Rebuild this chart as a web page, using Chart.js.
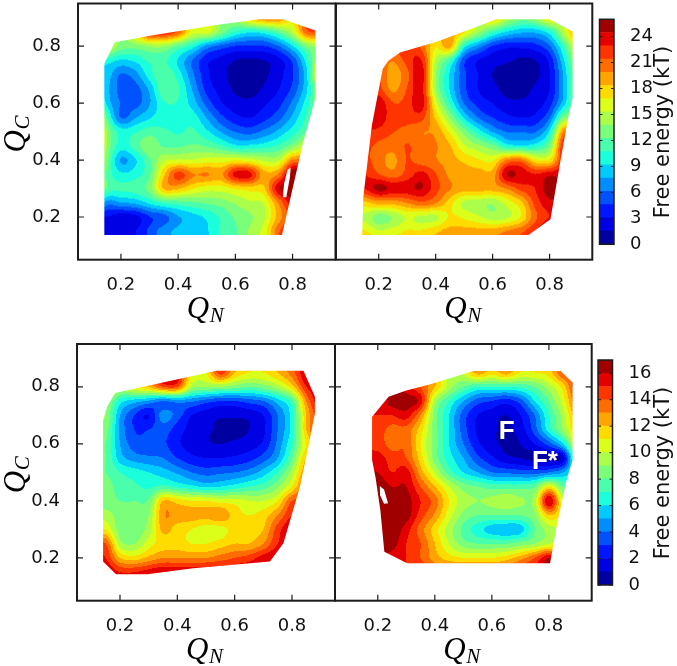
<!DOCTYPE html>
<html><head><meta charset="utf-8">
<style>html,body{margin:0;padding:0;background:#fff;width:677px;height:666px;overflow:hidden}
canvas{position:absolute;left:0;top:0}</style>
<script src="https://cdn.jsdelivr.net/npm/chart.js@4"></script></head><body>
<canvas id="c1" width="677" height="666"></canvas>
<canvas id="c2" width="677" height="666"></canvas>
<canvas id="c3" width="677" height="666"></canvas>
<canvas id="c4" width="677" height="666"></canvas>
<canvas id="c5" width="677" height="666"></canvas>
<canvas id="c6" width="677" height="666"></canvas>
<script>
const _ = null;
const tickValues = [0.2, 0.4, 0.6, 0.8];
const gridX = [.10,.15,.20,.25,.30,.35,.40,.45,.50,.55,.60,.65,.70,.75,.80,.85,.90];
const gridY = [.90,.85,.80,.75,.70,.65,.60,.55,.50,.45,.40,.35,.30,.25,.20,.15,.10];
const energyA = [
[_,_,_,_,_,_,_,_,_,_,_,18,20,20,_,_,_],
[_,_,_,_,23,23,21,16,16,13,10.5,9.5,10,12,15,21,_],
[_,16,13,13,14,14,12,10,7,5.5,4.5,4.5,4.5,6,9,13,_],
[_,10,9,9.5,11,11,9,6,3.5,2.5,1.5,1.2,1.5,2.5,5,10,16],
[_,8.5,6,7,10,12,10,6.5,3.5,2,1,.7,1.2,2.5,4.5,9,19],
[_,8,5.5,5.5,8,12,11,7.5,4,2.5,1.2,.7,1.8,3,5,9,15],
[_,9,6,5.5,7.5,10.5,10.5,8.5,5.5,3.2,2.2,2,2.8,4,6.5,10,14],
[24,12,6,7.5,9,10,10,10,7.5,5,3.5,3,4,5.5,8,11,13],
[25,14,10,10.5,11.5,11,10.5,11,9.5,7.5,6,5.5,6.5,8,10,12,_],
[24,14,10,11.5,13.5,12,12,12.5,12,11,9.5,9.5,10,11,13,16,_],
[20,13,7.5,9,12,15,15.5,15.5,16,16,16.5,16,15,15,20,20,_],
[18,12,9.5,10,12,18,22,20,20,19.5,23.5,23.5,19,20,26,26,_],
[18,12,11,11.5,13,18.5,18.5,17,16,16,17,17.5,18,24,26,26,_],
[_,7,7.5,8,9.5,11,11.5,12,12.5,13,14,15,15.5,20,24,_,_],
[_,3,2.2,2.5,4.5,5.5,7.5,8.5,9.5,11,12.5,13.5,15,19,22,_,_],
[_,3,2.5,3,5,7,8,8.5,9,11,12,14,16,21,24,_,_],
[_,3,2.5,3,5,7,8,8.5,9,11,12,14,16,21,24,_,_]];
const energyB = [
[_,_,_,_,_,_,_,_,_,_,18,15,13,14,17,_,_],
[_,_,_,_,_,_,_,19,17,14,11,9,8,8,10,15,20],
[_,_,_,_,23,21,17,19,10,7,4.5,3.5,3.5,4,6,11,17],
[_,_,21,20,22,23,15,11,5,3,2.2,1.8,1.2,1.5,3.5,9,15],
[_,_,21.5,19,21,24,14,9,5,3,1.5,.7,.6,1.2,3,8,14],
[_,_,22,19.5,21.5,23.5,14,9,5,3,2,1,1,1.8,3,8,14],
[_,23,24,21.5,22,24,16,10.5,6,4,3,2,1.8,2.2,4,8.5,14],
[_,24,24,22,22,22,18,13.5,9,6,4.5,3.5,3,3.5,6,13,_],
[_,23,22.5,21.5,21,20,19.5,16.5,13,10,7.5,6,6,6,9.5,20,_],
[_,22,21,20.5,21.5,20.5,20,18.5,15.5,14,12.5,10,9.5,10,13,23,_],
[_,22,20.5,19.5,21.5,20.5,20,19,18,17,16.5,20,20.5,17,17,23,_],
[_,23,21.5,20.5,22,23.5,21.5,19.5,19,19,19,24.5,24,23,24,24,_],
[_,23,25,24,24,24.5,22,20,19,19,19,20,22,23,25.5,_,_],
[_,18,19,19,20,21,20,17.5,15,14.5,14,16,18,22,24,_,_],
[_,15,13,14,15.5,15,15,17,16.5,15.5,14.5,15,17,21,23,_,_],
[_,17,15.5,16,17,17,18,19,19,19,19,20,21,23,25,_,_],
[_,19,18,18,19,19,19,20,20,20,20,21,22,24,_,_,_]];
const energyC = [
[_,_,_,_,_,_,_,_,_,_,_,_,_,_,_,_,_],
[_,_,_,_,_,16,15.5,11,11,14.5,12,11,11,12,13.5,16,_],
[_,13,10,11,12,14,14,9.5,9,9,8.5,8,8.5,9.5,11.5,15,16],
[_,9.5,6.5,5.5,4.8,4,4.5,4.2,3.5,3,3,3.5,4,5.5,7.5,13,16],
[_,9,5,3,2,4.5,3.5,2,1.5,1.2,1.2,1.3,2,4,6.5,12,15],
[_,8.5,4.8,3,3,3.5,2.5,1.6,1.2,.8,.7,1,1.8,4,6.5,12,15],
[_,8,5,3.5,3.3,3.2,2.2,1.5,1.1,1,1.2,1.5,2.2,4.3,7,11,_],
[_,8,5.5,4.5,4.2,4,3,2.3,2,2,2.2,2.6,3.5,5,8,12,_],
[_,8,7,6.5,6,5.5,4.8,4,3.6,3.8,4,4.5,5.5,7,9.5,13,_],
[_,8.5,7.5,7.2,6.8,7.3,6.8,6.3,5.8,6,6.5,7,7.5,8.8,11,14,_],
[_,8.5,8,8,8.2,12,11.5,11,11,10.5,10.5,10,10,11,14,_,_],
[_,9.5,8.5,8.3,9,12.8,12.6,12.5,12.3,12.9,11.5,11,11.5,13,15,_,_],
[_,11,8.5,8.3,9.5,12.3,11.5,11,10.5,10.5,11.5,11.8,12,14.5,16,_,_],
[_,14,9.5,9,10.5,11.5,11.5,11,11,11.5,12,12,13,15,_,_,_],
[_,15,12,11.5,12.3,13,13,13,13,13.5,14,14.5,15.5,16,_,_,_],
[_,16,15,15,15.5,16,16,16,16,16,16,16,16,_,_,_,_],
[_,16,16,16,16,16,16,16,16,16,16,16,_,_,_,_,_]];
const energyD = [
[_,_,_,_,_,_,_,_,_,_,_,_,_,_,_,_,_],
[_,_,_,_,_,_,_,_,_,12.5,11.5,12.5,11,11,11.5,14,_],
[_,_,_,16,15.5,14,12,9.5,8,7,7,7,7.2,8,9.5,11.5,15],
[_,_,15,16.5,16.5,15.5,9.5,7,5,3.5,3,2.5,3.5,6,8,10.5,14],
[_,_,15,15,15.5,13,8.5,6,3.5,2,1.5,1,2,4,7,9.5,13],
[_,_,14.5,13.6,13.6,11.5,8.5,6,3.5,1.8,1.2,.8,1.5,3.5,6.5,9,12],
[_,_,14.5,13.6,13.8,11,8.5,6,4,2.2,1.3,.8,1,2,3.5,6,11],
[_,_,15.5,14.5,14,11.5,8.5,6.5,5,3.3,2.2,1.3,1,.7,.9,1.5,9],
[_,_,16,15,15.5,12.5,10,7.5,6,5,4,3.8,3.6,3.5,4,5,_],
[_,_,16.9,16,16,14,12,10,8.5,8,7.5,7.5,7.5,8,11,8,_],
[_,_,16.9,16.8,16.5,15,13.5,11,9.5,9,9.3,9.8,9.2,9.5,16,10,_],
[_,_,16.9,16.9,16.5,14.5,12.8,10.5,8.7,8,8,8,8,8.8,12,_,_],
[_,_,16.9,16.8,15.5,13.5,11.5,9.5,7.7,6.5,5.5,5.2,5.5,8,9.5,10,_],
[_,_,16.9,16.5,15,14,12,10,8.5,8,8,8,8.5,9,10,_,_],
[_,_,16,15.5,15,14,12.5,11.5,11,11,11,11.5,12.5,14,16,_,_],
[_,_,_,_,15,15,14,14,14,14,14,14,15,15,16,_,_],
[_,_,_,_,_,_,_,_,_,_,_,_,_,_,_,_,_]];
const hullA = [[.142,.137],[.142,.738],[.179,.814],[.301,.837],[.545,.876],[.685,.895],[.766,.895],[.880,.855],[.880,.619],[.836,.458],[.763,.137]];
const holeA = [[.782,.365],[.793,.374],[.791,.341],[.778,.269],[.766,.269],[.770,.316]];
const hullB = [[.142,.137],[.146,.271],[.176,.522],[.214,.720],[.234,.749],[.275,.778],[.414,.819],[.613,.895],[.799,.895],[.881,.852],[.881,.619],[.863,.537],[.834,.373],[.803,.192],[.726,.137]];
const hullC = [[.141,.187],[.186,.143],[.295,.143],[.456,.164],[.723,.187],[.770,.251],[.828,.45],[.857,.59],[.880,.707],[.880,.765],[.84,.856],[.537,.856],[.421,.831],[.183,.778],[.156,.732],[.141,.683]];
const hullD = [[.180,.543],[.180,.695],[.238,.765],[.297,.786],[.384,.809],[.536,.855],[.841,.855],[.883,.815],[.883,.543],[.862,.473],[.827,.311],[.804,.181],[.303,.181],[.223,.222],[.209,.367],[.192,.483]];
const holeD = [[.207,.452],[.222,.44],[.236,.392],[.222,.39],[.208,.42]];
const barTicksTop = [0,3,6,9,12,15,18,21,24];
const barTicksBottom = [0,2,4,6,8,10,12,14,16];
const barTitle = "Free energy (kT)";
const labelNames = ["F","F*"];
const labelX = [.652,.786];
const labelY = [.642,.537];

const BANDS = 17, INK = "#1c1c1c";
const TICK_FONT = {family:"'DejaVu Sans'",size:18};
const AXIS_W = 50, AXIS_H = 30;
function jet(f){
  const seg=(p)=>{
    for(let i=1;i<p.length;i++) if(f<=p[i][0]){
      const a=p[i-1],b=p[i]; return a[1]+(b[1]-a[1])*(f-a[0])/(b[0]-a[0]);
    } return p[p.length-1][1]; };
  const r=seg([[0,0],[.35,0],[.66,1],[.89,1],[1,.5]]);
  const g=seg([[0,0],[.125,0],[.375,1],[.64,1],[.91,0],[1,0]]);
  const b=seg([[0,.5],[.11,1],[.34,1],[.65,0],[1,0]]);
  return [r*255|0,g*255|0,b*255|0];
}
const bandRGB = Array.from({length:BANDS},(_v,i)=>jet((i+.5)/BANDS));
function filled(rows){
  const g=rows.map(r=>r.slice());
  let again=true;
  while(again){ again=false;
    const s=g.map(r=>r.slice());
    for(let j=0;j<g.length;j++)for(let i=0;i<g[j].length;i++) if(s[j][i]===null){
      let t=0,n=0;
      [[0,1],[1,0],[0,-1],[-1,0]].forEach(([a,b])=>{const v=(s[j+a]||[])[i+b]; if(v!==undefined&&v!==null){t+=v;n++;}});
      if(n){g[j][i]=t/n;} else again=true;
    }
  }
  return g;
}
function cr(p0,p1,p2,p3,t){return .5*(2*p1+(p2-p0)*t+(2*p0-5*p1+4*p2-p3)*t*t+(3*p1-p0-3*p2+p3)*t*t*t);}
function sample(g,x,y){
  const fx=(x-gridX[0])/(gridX[1]-gridX[0]), fy=(gridY[0]-y)/(gridY[0]-gridY[1]);
  const ix=Math.floor(fx), iy=Math.floor(fy), tx=fx-ix, ty=fy-iy, m=gridX.length-1, n=gridY.length-1;
  const row=(j)=>{const r=g[Math.min(n,Math.max(0,j))];const c=(i)=>r[Math.min(m,Math.max(0,i))];
    return cr(c(ix-1),c(ix),c(ix+1),c(ix+2),tx);};
  return cr(row(iy-1),row(iy),row(iy+1),row(iy+2),ty);
}
const contourPlugin={id:'contour',beforeDatasetsDraw(chart){
  const o=chart.options.plugins.contour; if(!o||!o.rows) return;
  const {left,top,right,bottom}=chart.chartArea, sx=chart.scales.x, sy=chart.scales.y;
  const ctx=chart.ctx, W=Math.ceil(right-left), H=Math.ceil(bottom-top);
  const g=filled(o.rows), step=o.maxE/BANDS;
  const off=document.createElement('canvas'); off.width=W; off.height=H;
  const oc=off.getContext('2d'), im=oc.createImageData(W,H);
  for(let py=0;py<H;py++)for(let px=0;px<W;px++){
    const v=sample(g,sx.getValueForPixel(left+px+.5),sy.getValueForPixel(top+py+.5));
    const b=Math.max(0,Math.min(BANDS-1,Math.floor(v/step))), c=bandRGB[b], k=(py*W+px)*4;
    im.data[k]=c[0];im.data[k+1]=c[1];im.data[k+2]=c[2];im.data[k+3]=255;
  }
  oc.putImageData(im,0,0);
  ctx.save(); ctx.beginPath();
  const trace=(poly)=>{poly.forEach(([x,y],i)=>{const X=sx.getPixelForValue(x),Y=sy.getPixelForValue(y);i?ctx.lineTo(X,Y):ctx.moveTo(X,Y);});ctx.closePath();};
  trace(o.hull); if(o.hole) trace(o.hole);
  ctx.clip('evenodd'); ctx.filter='blur(0.7px)';
  ctx.drawImage(off,left,top); ctx.restore();
}};
const framePlugin={id:'frame',afterDraw(chart){
  const o=chart.options.plugins.frame; if(!o) return;
  const {left,top,right,bottom}=chart.chartArea, ctx=chart.ctx;
  ctx.save(); ctx.strokeStyle=INK;
  ctx.lineWidth=o.tick||1.2; ctx.beginPath();
  chart.scales.y.ticks.forEach(t=>{const Y=chart.scales.y.getPixelForValue(t.value);
    ctx.moveTo(left,Y);ctx.lineTo(left+o.len,Y);ctx.moveTo(right,Y);ctx.lineTo(right-o.len,Y);});
  if(o.xTicks) chart.scales.x.ticks.forEach(t=>{const X=chart.scales.x.getPixelForValue(t.value);
    ctx.moveTo(X,top);ctx.lineTo(X,top+o.len);ctx.moveTo(X,bottom);ctx.lineTo(X,bottom-o.len);});
  ctx.stroke();
  ctx.lineWidth=o.width; ctx.strokeRect(left,top,right-left,bottom-top);
  ctx.fillStyle="#000"; ctx.textAlign='left'; ctx.textBaseline='alphabetic';
  if(o.xLabel){const c=(left+right)/2-1;
    ctx.font="italic 31px 'Liberation Serif'"; ctx.fillText("Q",c-19,bottom+58);
    ctx.font="italic 21px 'Liberation Serif'"; ctx.fillText("N",c+4,bottom+62);}
  if(o.yLabel){const c=(top+bottom)/2+1;
    ctx.save();ctx.translate(25,c+20);ctx.rotate(-Math.PI/2);ctx.font="italic 31px 'Liberation Serif'";ctx.fillText("Q",0,0);ctx.restore();
    ctx.save();ctx.translate(29,c-3);ctx.rotate(-Math.PI/2);ctx.font="italic 21px 'Liberation Serif'";ctx.fillText("C",0,0);ctx.restore();}
  if(o.barTitle){ctx.save();ctx.translate(o.titleX,o.titleY);ctx.rotate(-Math.PI/2);
    ctx.font="21px 'DejaVu Sans'";ctx.fillStyle="#111";ctx.textAlign='center';ctx.textBaseline='middle';ctx.fillText(o.barTitle,0,0);ctx.restore();}
  if(o.notes){ctx.fillStyle="#fff";ctx.font="bold 26px 'Liberation Sans'";ctx.textAlign='center';ctx.textBaseline='middle';
    labelNames.forEach((s,i)=>ctx.fillText(s,chart.scales.x.getPixelForValue(labelX[i]),chart.scales.y.getPixelForValue(labelY[i])));}
  ctx.restore();
}};
Chart.register(contourPlugin,framePlugin);
const noPad=s=>{s.paddingTop=0;s.paddingBottom=0;s.paddingLeft=0;s.paddingRight=0;};
const fitW=s=>{s.width=AXIS_W;noPad(s);}, fitH=s=>{s.height=AXIS_H;noPad(s);};
function panel(id,box,rows,hull,hole,maxE,showY,extra){
  const pts=[]; gridY.forEach((y,j)=>gridX.forEach((x,i)=>{if(rows[j][i]!==null)pts.push({x,y,v:rows[j][i]});}));
  new Chart(document.getElementById(id),{type:'scatter',
    data:{datasets:[{data:pts,pointRadius:0,pointHoverRadius:0,showLine:false}]},
    options:{responsive:false,animation:false,events:[],
      layout:{padding:{left:box[0]-AXIS_W,top:box[2],right:677-box[1],bottom:666-box[3]-AXIS_H}},
      plugins:{legend:{display:false},tooltip:{enabled:false},
        contour:{rows,hull,hole,maxE},
        frame:Object.assign({width:2,len:6,xTicks:true,xLabel:true,yLabel:showY},extra||{})},
      scales:{
        x:{type:'linear',min:.05,max:.95,grid:{display:false},border:{display:false},afterFit:fitH,
          afterBuildTicks:s=>{s.ticks=tickValues.map(value=>({value}));},
          ticks:{font:TICK_FONT,color:'#111',padding:7,maxRotation:0,autoSkip:false,callback:v=>v.toFixed(1)}},
        y:{type:'linear',min:.05,max:.95,grid:{display:false},border:{display:false},afterFit:fitW,
          afterBuildTicks:s=>{s.ticks=tickValues.map(value=>({value}));},
          ticks:{display:showY,font:TICK_FONT,color:'#111',padding:9,autoSkip:false,callback:v=>v.toFixed(1)}}
      }}});
}
function colorbar(id,box,maxE,ticks,titleY){
  const step=maxE/BANDS;
  const datasets=bandRGB.map((c,i)=>({data:[[i*step,(i+1)*step]],backgroundColor:`rgb(${c[0]},${c[1]},${c[2]})`,
    barPercentage:1,categoryPercentage:1,grouped:false,borderWidth:0}));
  new Chart(document.getElementById(id),{type:'bar',data:{labels:[barTitle],datasets},
    options:{responsive:false,animation:false,events:[],
      layout:{padding:{left:box[0],top:box[2],right:677-box[1]-AXIS_W,bottom:666-box[3]}},
      plugins:{legend:{display:false},tooltip:{enabled:false},
        frame:{width:1.5,len:3,tick:1,barTitle,titleX:664,titleY}},
      scales:{
        x:{display:false},
        y:{position:'right',type:'linear',min:0,max:maxE,grid:{display:false},border:{display:false},afterFit:fitW,
          afterBuildTicks:s=>{s.ticks=ticks.map(value=>({value}));},
          ticks:{font:TICK_FONT,color:'#111',padding:8,autoSkip:false}}
      }}});
}
panel('c1',[78,335.5,3.5,259.7],energyA,hullA,holeA,26,true);
panel('c2',[336,592.3,3.5,259.7],energyB,hullB,null,26,false);
panel('c3',[77,335,344,600.7],energyC,hullC,null,17,true);
panel('c4',[335,591.7,344,600.7],energyD,hullD,holeD,17,false,{notes:true});
colorbar('c5',[599.5,614,19.3,244.3],26,barTicksTop,132);
colorbar('c6',[598,612.5,360,585],17,barTicksBottom,473);
</script></body></html>
